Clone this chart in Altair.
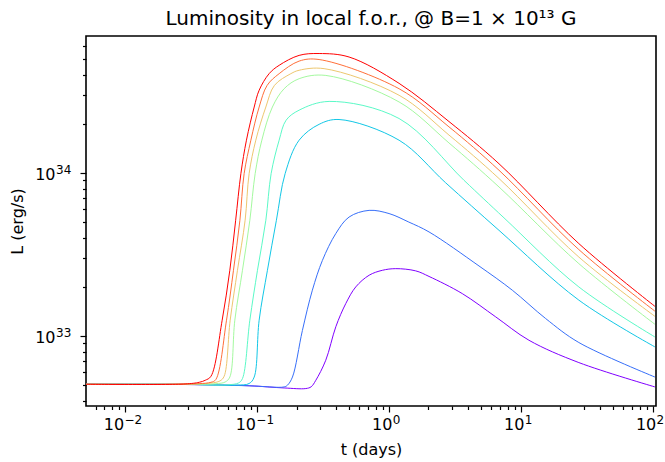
import altair as alt
import pandas as pd

# ---------------- data (t in days, L in erg/s) ----------------
series_names = ["c1", "c2", "c3", "c4", "c5", "c6", "c7", "c8"]
series_colors = ["#8000ff", "#376ff9", "#12c7e6", "#5bf9c7",
                 "#a4f99f", "#edc76f", "#ff6f39", "#ff0000"]

t_c1 = [0.0050, 0.0286, 0.0874, 0.161, 0.235, 0.258, 0.280, 0.333, 0.397, 0.472, 0.562,
        0.710, 0.894, 1.13, 1.60, 2.02, 3.61, 6.47, 11.55, 27.6, 104.2]
L_c1 = [5.06e32, 5.04e32, 4.95e32, 4.80e32, 4.76e32, 4.88e32, 5.35e32, 7.10e32, 1.14e33, 1.58e33, 2.00e33,
        2.36e33, 2.53e33, 2.59e33, 2.51e33, 2.32e33, 1.82e33, 1.31e33, 9.42e32, 6.87e32, 4.87e32]

t_c2 = [0.0050, 0.0286, 0.0874, 0.161, 0.1706, 0.1862, 0.2214, 0.2636, 0.3141, 0.3966, 0.5003,
        0.7096, 1.005, 1.42, 2.02, 4.83, 8.64, 15.46, 27.6, 104.2]
L_c2 = [5.06e32, 5.04e32, 4.95e32, 4.87e32, 4.99e32, 5.60e32, 1.08e33, 1.91e33, 2.91e33, 4.25e33, 5.37e33,
        5.90e33, 5.64e33, 5.00e33, 4.35e33, 2.69e33, 1.91e33, 1.28e33, 9.12e32, 5.60e32]

t_c3 = [0.0050, 0.0286, 0.0700, 0.0874, 0.0955, 0.1041, 0.1203, 0.1407, 0.1638, 0.2091, 0.2965,
        0.4198, 1.197, 2.70, 6.85, 27.6, 104.2]
L_c3 = [5.06e32, 5.05e32, 5.00e32, 5.11e32, 5.60e32, 1.25e33, 2.53e33, 5.13e33, 9.91e33, 1.59e34, 1.99e34,
        2.13e34, 1.59e34, 8.71e33, 4.45e33, 1.66e33, 8.57e32]

t_c4 = [0.0050, 0.0286, 0.0600, 0.0726, 0.0778, 0.0885, 0.1011, 0.1170, 0.1283, 0.1476, 0.1667,
        0.2091, 0.3531, 1.197, 3.72, 7.47, 27.6, 104.2]
L_c4 = [5.06e32, 5.05e32, 5.02e32, 5.15e32, 5.48e32, 1.25e33, 2.53e33, 5.13e33, 9.91e33, 1.59e34, 2.11e34,
        2.43e34, 2.75e34, 2.16e34, 9.02e33, 5.31e33, 2.00e33, 9.86e32]

t_c5 = [0.0050, 0.0286, 0.0489, 0.0575, 0.0624, 0.0681, 0.0778, 0.0885, 0.0971, 0.1091, 0.1312,
        0.161, 0.2091, 0.3333, 1.197, 2.86, 6.85, 27.6, 104.2]
L_c5 = [5.06e32, 5.06e32, 5.10e32, 5.22e32, 5.60e32, 1.25e33, 2.53e33, 5.13e33, 9.91e33, 1.59e34, 2.54e34,
        3.29e34, 3.79e34, 3.97e34, 2.73e34, 1.53e34, 8.21e33, 2.78e33, 1.18e33]

t_c6 = [0.0050, 0.0286, 0.0449, 0.0525, 0.0565, 0.0628, 0.0713, 0.0815, 0.0874, 0.0982, 0.1170,
        0.136, 0.1811, 0.2091, 0.3235, 1.197, 2.86, 6.85, 27.6, 104.2]
L_c6 = [5.06e32, 5.07e32, 5.15e32, 5.30e32, 5.66e32, 1.25e33, 2.53e33, 5.13e33, 9.91e33, 1.59e34, 2.54e34,
        3.45e34, 4.07e34, 4.27e34, 4.37e34, 3.00e34, 1.71e34, 9.25e33, 3.05e33, 1.32e33]

t_c7 = [0.0050, 0.0286, 0.0366, 0.0449, 0.0489, 0.0589, 0.0665, 0.0744, 0.0801, 0.0901, 0.1041,
        0.1197, 0.1476, 0.2091, 0.2965, 1.197, 2.86, 6.85, 27.6, 104.2]
L_c7 = [5.06e32, 5.07e32, 5.10e32, 5.20e32, 5.41e32, 1.25e33, 2.53e33, 5.13e33, 9.91e33, 1.59e34, 2.54e34,
        3.45e34, 4.07e34, 4.86e34, 4.97e34, 3.29e34, 1.92e34, 1.04e34, 3.39e33, 1.42e33]

t_c8 = [0.0050, 0.0286, 0.0366, 0.0406, 0.0449, 0.0546, 0.0624, 0.0691, 0.0757, 0.0834, 0.0955,
        0.1041, 0.1239, 0.1476, 0.2091, 0.2965, 0.500, 1.197, 2.86, 6.85, 27.6, 104.2]
L_c8 = [5.06e32, 5.08e32, 5.20e32, 5.35e32, 5.66e32, 1.25e33, 2.53e33, 5.13e33, 9.91e33, 1.59e34, 2.54e34,
        3.22e34, 4.07e34, 4.58e34, 5.27e34, 5.41e34, 5.15e34, 3.55e34, 2.07e34, 1.14e34, 3.69e33, 1.52e33]

t_all = [t_c1, t_c2, t_c3, t_c4, t_c5, t_c6, t_c7, t_c8]
L_all = [L_c1, L_c2, L_c3, L_c4, L_c5, L_c6, L_c7, L_c8]

x_domain = [0.00507, 106.1]
y_domain = [3.72e32, 6.93e34]

x_major = [0.01, 0.1, 1, 10, 100]
x_major_base = ["10", "10", "10", "10", "10"]
x_major_exp = ["−2", "−1", "0", "1", "2"]
y_major = [1e33, 1e34]
y_major_base = ["10", "10"]
y_major_exp = ["33", "34"]

title_text = "Luminosity in local f.o.r., @ B=1 × 10¹³  G"
x_title = "t (days)"
y_title = "L (erg/s)"

FONT = "DejaVu Sans"

# ---------------- build table ----------------
rows = []
for name, ts, Ls in zip(series_names, t_all, L_all):
    for i, (t, L) in enumerate(zip(ts, Ls)):
        rows.append({"series": name, "t": t, "L": L, "idx": i})
df = pd.DataFrame(rows)

x_minor = [round(k * 10.0 ** e, 6) for e in range(-3, 2) for k in range(2, 10)
           if x_domain[0] <= k * 10.0 ** e <= x_domain[1]]
y_minor = [float(f"{k}e{e}") for e in (32, 33, 34) for k in range(2, 10)
           if y_domain[0] <= float(f"{k}e{e}") <= y_domain[1]]


def label_expr(vals, labs):
    s = " : ".join(f"datum.value == {repr(float(v))} ? '{l}'" for v, l in zip(vals, labs))
    return s + " : ''"


def tick_cond(vals, major=6, minor=3.5):
    arr = "[" + ", ".join(repr(float(v)) for v in vals) + "]"
    return {"condition": {"test": f"indexof({arr}, datum.value) >= 0", "value": major}, "value": minor}


x_scale = alt.Scale(type="log", domain=x_domain, nice=False)
y_scale = alt.Scale(type="log", domain=y_domain, nice=False)

# main layer: the curves, ticks, "10" of every label and the axis titles
lines = alt.Chart(df).mark_line(strokeWidth=1, interpolate="catmull-rom", clip=True).encode(
    x=alt.X("t:Q", scale=x_scale,
            axis=alt.Axis(orient="bottom", values=x_major + x_minor,
                          labelExpr=label_expr(x_major, x_major_base),
                          tickSize=tick_cond(x_major), labelOverlap=False, labelFlush=False,
                          labelPadding=4.5, labelFontSize=16,
                          labelOffset={"condition": {"test": "datum.value < 1", "value": -11.5}, "value": -7},
                          title=x_title, titleY=35, titleBaseline="top")),
    y=alt.Y("L:Q", scale=y_scale,
            axis=alt.Axis(orient="left", values=y_major + y_minor,
                          labelExpr=label_expr(y_major, y_major_base),
                          tickSize=tick_cond(y_major), labelOverlap=False, labelFlush=False,
                          labelPadding=25, labelFontSize=16, labelOffset=1.5,
                          title=y_title, titleX=-61, titleY=185, titleBaseline="bottom")),
    color=alt.Color("series:N", scale=alt.Scale(domain=series_names, range=series_colors), legend=None),
    order=alt.Order("idx:Q"),
    detail="series:N",
)

# second layer: invisible points that carry the exponent (superscript) labels
sup = alt.Chart(df).mark_point(opacity=0, size=1).encode(
    x=alt.X("t:Q", scale=x_scale,
            axis=alt.Axis(orient="bottom", values=x_major,
                          labelExpr=label_expr(x_major, x_major_exp),
                          tickSize=0, tickOpacity=0, labelOverlap=False, labelFlush=False,
                          labelPadding=8.3, labelFontSize=12, labelAlign="left",
                          labelOffset={"condition": {"test": "datum.value < 1", "value": -1.0}, "value": 3.5},
                          title=None)),
    y=alt.Y("L:Q", scale=y_scale,
            axis=alt.Axis(orient="left", values=y_major,
                          labelExpr=label_expr(y_major, y_major_exp),
                          tickSize=0, tickOpacity=0, labelOverlap=False, labelFlush=False,
                          labelPadding=30.5, labelFontSize=12, labelAlign="left", labelOffset=-3.5,
                          title=None)),
)

chart = alt.layer(sup, lines).resolve_axis(
    x="independent", y="independent"
).properties(
    width=570,
    height=370,
    autosize=alt.AutoSizeParams(type="none"),
    padding={"left": 86, "top": 36, "right": 9, "bottom": 56},
    title=alt.TitleParams(text=title_text, font=FONT, fontSize=20, fontWeight="normal",
                          color="black", offset=7, anchor="middle"),
).configure_view(
    stroke="black", strokeWidth=1.6
).configure_axis(
    domain=False, grid=False, tickColor="black", tickWidth=1.2,
    labelColor="black", titleColor="black",
    labelFont=FONT, titleFont=FONT,
    titleFontSize=16, titleFontWeight="normal",
)

chart.save("out.html", embed_options={"renderer": "svg", "actions": False})
